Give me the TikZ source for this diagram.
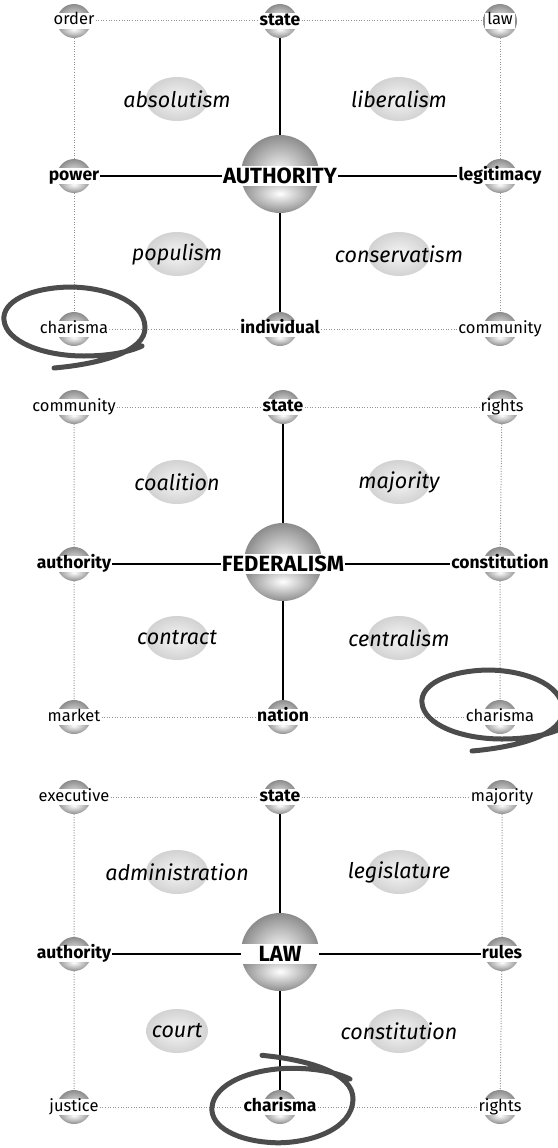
\documentclass[tikz,border=0pt]{standalone}
\usepackage{fontspec}
\setmainfont{Fira Sans}

\tikzset{
  ball/.style={circle, minimum size=#1, inner sep=0pt,
    path picture={
      \shade[inner color=white, outer color=gray!90]
        (path picture bounding box.west) rectangle (path picture bounding box.north east);
      \shade[inner color=white, outer color=gray!90]
        (path picture bounding box.west) rectangle (path picture bounding box.south east);
    }},
  plaintag/.style={fill=white, inner xsep=1pt, inner ysep=0.5pt, minimum width=30pt,
    text height=11.5pt, text depth=3.5pt, font=\fontsize{16.5}{16.5}\selectfont},
  keytag/.style={plaintag, text height=12pt, text depth=3.5pt,
    font=\bfseries\fontsize{17.5}{17.5}\selectfont},
  hubtag/.style={plaintag, minimum width=78pt, inner ysep=2pt,
    text height=15.5pt, text depth=1pt,
    font=\bfseries\fontsize{22}{22}\selectfont},
  regiontag/.style={font=\itshape\fontsize{21.5}{21.5}\selectfont},
  blob/.style={inner color=gray!8, outer color=gray!35},
  spoke/.style={line width=1.4pt},
  dots/.style={gray!85, line width=1pt, dash pattern=on 1pt off 1.6pt},
  brush/.pic={
    \draw[line width=5pt, black!70, line cap=round]
      (-20,46) .. controls (25,42) and (72,30) .. (71,5)
      .. controls (70,-22) and (30,-35) .. (-5,-35)
      .. controls (-45,-34) and (-72,-20) .. (-70,-2)
      .. controls (-68,20) and (-30,34) .. (10,34)
      .. controls (35,34) and (55,30) .. (68,24);
  }
}

% sphere with its label
\newcommand\concept[4][plaintag]{%
  \node[ball=34] (#2b) at (#3) {};
  \node[#1] (#2) at (#3) {#4};}
% shaded patch with an italic label
\newcommand\area[3]{%
  \shade[blob] (#2) ellipse (31 and 22);
  \node[regiontag] (#1) at (#2) {#3};}

\begin{document}
\begin{tikzpicture}[x=1pt,y=-1pt]
  \useasboundingbox (0,0) rectangle (557,1148);

  % AUTHORITY
  \begin{scope}[name prefix=a-]
    \area{nw}{177,99}{absolutism}
    \area{ne}{399,99}{liberalism}
    \area{sw}{177,254}{populism}
    \area{se}{399,254}{conservatism}
    \concept{tl}{74,21}{order}
    \concept[keytag]{tc}{280,21}{state}
    \concept{tr}{500,21}{law}
    \concept[keytag]{ml}{74,176}{power}
    \node[ball=78] (hubb) at (280,174) {};
    \node[hubtag] (hub) at (280,176) {AUTHORITY};
    \concept[keytag]{mr}{500,176}{legitimacy}
    \concept{bl}{74,329}{charisma}
    \concept[keytag]{bc}{280,329}{individual}
    \concept{br}{500,329}{community}
    \draw[dots] (tl) -- (tc) (tc) -- (tr) (bl) -- (bc) (bc) -- (br);
    \draw[dots] (tlb) -- (mlb) (mlb) -- (blb) (trb) -- (mrb) (mrb) -- (brb);
    \draw[spoke] (tcb) -- (hubb) (hubb) -- (bcb) (ml) -- (hub) (hub) -- (mr);
    \pic at (74,322) {brush};
  \end{scope}

  % FEDERALISM
  \begin{scope}[shift={(0,387)}, name prefix=b-]
    \area{nw}{177,95}{coalition}
    \area{ne}{399,95}{majority}
    \area{sw}{177,251}{contract}
    \area{se}{399,251}{centralism}
    \concept{tl}{74,20}{community}
    \concept[keytag]{tc}{283,20}{state}
    \concept{tr}{502,20}{rights}
    \concept[keytag]{ml}{74,177}{authority}
    \node[ball=78] (hubb) at (283,175) {};
    \node[hubtag] (hub) at (283,177) {FEDERALISM};
    \concept[keytag]{mr}{500,177}{constitution}
    \concept{bl}{74,330}{market}
    \concept[keytag]{bc}{283,330}{nation}
    \concept{br}{500,330}{charisma}
    \draw[dots] (tl) -- (tc) (tc) -- (tr) (bl) -- (bc) (bc) -- (br);
    \draw[dots] (tlb) -- (mlb) (mlb) -- (blb) (trb) -- (mrb) (mrb) -- (brb);
    \draw[spoke] (tcb) -- (hubb) (hubb) -- (bcb) (ml) -- (hub) (hub) -- (mr);
    \pic at (492,318) {brush};
  \end{scope}

  % LAW
  \begin{scope}[shift={(0,777)}, name prefix=c-]
    \area{nw}{177,95}{administration}
    \area{ne}{399,95}{legislature}
    \area{sw}{177,254}{court}
    \area{se}{399,254}{constitution}
    \concept{tl}{74,20}{executive}
    \concept[keytag]{tc}{280,20}{state}
    \concept{tr}{502,20}{majority}
    \concept[keytag]{ml}{74,177}{authority}
    \node[ball=78] (hubb) at (280,175) {};
    \node[hubtag] (hub) at (280,177) {LAW};
    \concept[keytag]{mr}{502,177}{rules}
    \concept{bl}{74,330}{justice}
    \concept[keytag]{bc}{280,330}{charisma}
    \concept{br}{500,330}{rights}
    \draw[dots] (tl) -- (tc) (tc) -- (tr) (bl) -- (bc) (bc) -- (br);
    \draw[dots] (tlb) -- (mlb) (mlb) -- (blb) (trb) -- (mrb) (mrb) -- (brb);
    \draw[spoke] (tcb) -- (hubb) (hubb) -- (bcb) (ml) -- (hub) (hub) -- (mr);
    \pic[yscale=-1.08] at (282,328) {brush};
  \end{scope}
\end{tikzpicture}
\end{document}
